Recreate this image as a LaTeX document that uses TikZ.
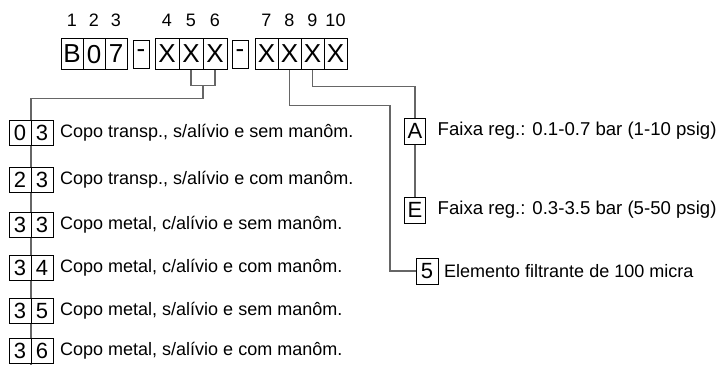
\documentclass[tikz,border=0pt]{standalone}
\usepackage{fontspec}
\setmainfont{Liberation Sans}
\usetikzlibrary{positioning, backgrounds, calc}

\begin{document}
\begin{tikzpicture}[
    x=1pt, y=-1pt,
    codebox/.style={
        rectangle, draw=black, fill=white, line width=0.8pt,
        inner sep=0pt, outer sep=0pt,
        minimum width=23pt, minimum height=31pt,
        font=\fontsize{26}{26}\selectfont, text depth=0pt
    },
    dashbox/.style={codebox, minimum width=16pt, minimum height=28pt},
    optbox/.style={
        codebox, minimum width=22pt, minimum height=25pt,
        font=\fontsize{22}{22}\selectfont
    },
    posnum/.style={font=\fontsize{18}{18}\selectfont, inner sep=0pt},
    desctext/.style={font=\fontsize{18}{18}\selectfont, inner sep=0pt, anchor=west},
    rangetext/.style={desctext, font=\fontsize{18.6}{18.6}\selectfont},
    linkline/.style={draw=black!60, line width=1.2pt}
]

    % ------------------- AREA -------------------
    \useasboundingbox (0,0) rectangle (720,365);

    % ------------------- CODICE (riga in alto) -------------------
    \node[codebox, minimum width=22pt] (c1) at (72,54) {B};
    \node[codebox, minimum width=22pt, right=0pt of c1] (c2) {0};
    \node[codebox, minimum width=22pt, right=0pt of c2] (c3) {7};

    \node[dashbox] (d1) at (141,54) {-};

    \node[codebox, minimum width=24pt] (c4) at (167,54) {X};
    \node[codebox, minimum width=24pt, right=0pt of c4] (c5) {X};
    \node[codebox, minimum width=24pt, right=0pt of c5] (c6) {X};

    \node[dashbox] (d2) at (240,54) {-};

    \node[codebox] (c7) at (266.5,54) {X};
    \node[codebox, right=0pt of c7] (c8) {X};
    \node[codebox, right=0pt of c8] (c9) {X};
    \node[codebox, right=0pt of c9] (c10) {X};

    % numeri di posizione
    \foreach \i in {1,...,10}
        \node[posnum, above=12pt of c\i] (n\i) {\i};

    % ------------------- OPZIONI COPO (sinistra) -------------------
    \foreach \a/\b/\yy/\txt [count=\r] in {
        0/3/133/{Copo transp., s/alívio e sem manôm.},
        2/3/180/{Copo transp., s/alívio e com manôm.},
        3/3/225/{Copo metal, c/alívio e sem manôm.},
        3/4/268/{Copo metal, c/alívio e com manôm.},
        3/5/311/{Copo metal, s/alívio e sem manôm.},
        3/6/351/{Copo metal, s/alívio e com manôm.}} {
        \node[optbox] (o\r a) at (20,\yy) {\a};
        \node[optbox, right=0pt of o\r a] (o\r b) {\b};
        \node[desctext, right=7pt of o\r b] (t\r) {\txt};
    }
    \coordinate (colend) at (o6a.east |- 0,365);

    % ------------------- OPZIONI DESTRA -------------------
    \node[optbox, minimum width=21pt, minimum height=26pt] (optA) at (415,131) {A};
    \node[rangetext, right=12pt of optA] (tA) {Faixa reg.: 0.1-0.7 bar (1-10 psig)};

    \node[optbox, minimum width=21pt, minimum height=26pt] (optE) at (415,210) {E};
    \node[rangetext, right=12pt of optE] (tE) {Faixa reg.: 0.3-3.5 bar (5-50 psig)};

    \node[optbox, minimum width=22pt, minimum height=26pt] (opt5) at (427,271) {5};
    \node[desctext, right=6pt of opt5] (t5) {Elemento filtrante de 100 micra};

    % ------------------- COLLEGAMENTI -------------------
    \begin{scope}[on background layer]
        \draw[linkline] (c5.south) -- ++(0,16) -| (c6.south);
        \draw[linkline] ($(c5.south east)+(0,16)$) -- ++(0,13) -| (colend);
        \draw[linkline] (c8.south) -- ++(0,36) -| ($(opt5.west)+(-26,0)$) -- (opt5.west);
        \draw[linkline] (c9.south) -- ++(0,17) -| (optA.north);
        \draw[linkline] (optA.south) -- (optE.north);
    \end{scope}
\end{tikzpicture}
\end{document}
